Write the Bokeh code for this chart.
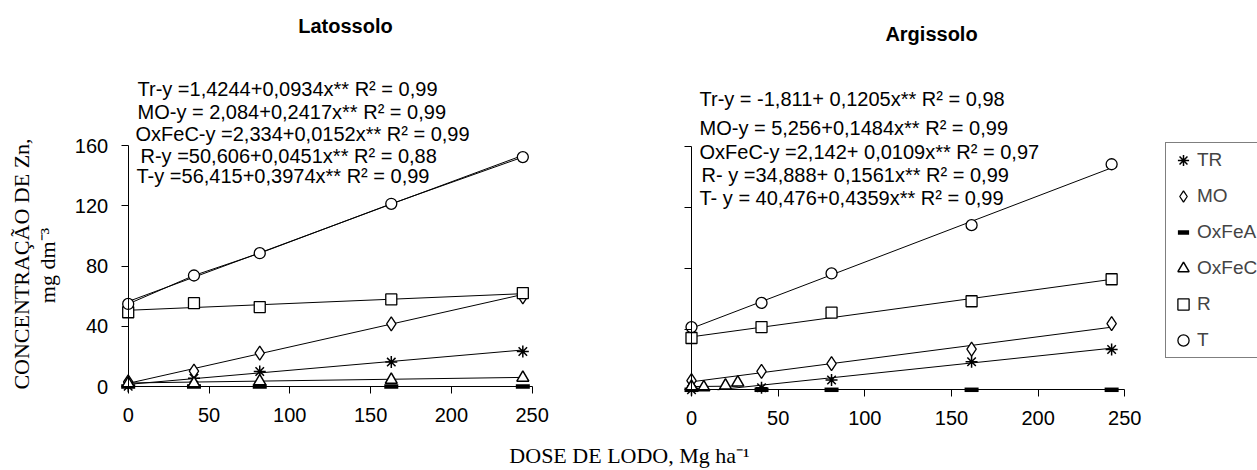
from math import pi
from bokeh.plotting import figure
from bokeh.models import Range1d, LinearAxis, FixedTicker, Label, Legend, LegendItem
from bokeh.embed import file_html
from bokeh.resources import INLINE

# ---------------- data ----------------
doses_lat = [0, 40.7, 81.4, 162.8, 244.2]
doses_arg = [0, 40.4, 80.8, 161.6, 242.4]

tr_lat = [0.2, 5.5, 10.0, 16.2, 23.2]
mo_lat = [3.0, 10.2, 22.1, 41.6, 59.5]
oxfea_lat = [0, 0, 0, 0, 0]
oxfec_lat = [2.0, 2.0, 3.5, 4.4, 5.8]
r_lat = [49.3, 55.3, 52.7, 57.8, 62.0]
t_lat = [54.8, 73.7, 88.5, 121.3, 152.3]

tr_arg = [0.0, 1.3, 6.5, 18.5, 26.5]
mo_arg = [6.1, 12.1, 17.2, 26.8, 43.6]
oxfea_arg = [0, 0, 0, 0, 0]
oxfec_arg_x = [0, 7.1, 19.6, 26.7]
oxfec_arg = [2.0, 1.7, 2.8, 4.8]
r_arg = [34.1, 41.3, 50.8, 58.3, 72.8]
t_arg = [41.3, 57.2, 76.6, 108.4, 148.5]

# regression coefficients  y = a + b x
reg_lat = {"TR": (1.4244, 0.0934), "MO": (2.084, 0.2417), "OxFeC": (2.334, 0.0152),
           "R": (50.606, 0.0451), "T": (56.415, 0.3974)}
reg_arg = {"TR": (-1.811, 0.1205), "MO": (5.256, 0.1484), "OxFeC": (2.142, 0.0109),
           "R": (34.888, 0.1561), "T": (40.476, 0.4359)}

eq_lat = ["Tr-y =1,4244+0,0934x** R² = 0,99",
          "MO-y = 2,084+0,2417x** R² = 0,99",
          "OxFeC-y =2,334+0,0152x** R² = 0,99",
          "R-y =50,606+0,0451x** R² = 0,88",
          "T-y =56,415+0,3974x** R² = 0,99"]
eq_arg = ["Tr-y = -1,811+ 0,1205x** R² = 0,98",
          "MO-y = 5,256+0,1484x**  R² = 0,99",
          "OxFeC-y =2,142+ 0,0109x**  R² = 0,97",
          "R- y =34,888+ 0,1561x**  R² = 0,99",
          "T- y = 40,476+0,4359x**  R² = 0,99"]

x_ticks = [0, 50, 100, 150, 200, 250]
y_ticks = [0, 40, 80, 120, 160]
legend_labels = ["TR", "MO", "OxFeA", "OxFeC", "R", "T"]
title_lat = "Latossolo"
title_arg = "Argissolo"
y_title = ["CONCENTRAÇÃO DE Zn,", "mg dm⁻³"]
x_title = "DOSE DE LODO, Mg ha⁻¹"

# ---------------- layout ----------------
W, H = 1257, 470
M = 0  # the page template has no body margin


def x_range_for(px0, px1, v0, v1):
    k = (px1 - px0) / (v1 - v0)
    start = v0 - (px0 - M) / k
    return Range1d(start, start + W / k)


def y_range_for(py0, py1, v0, v1):
    k = (py0 - py1) / (v1 - v0)
    top = v0 + (py0 - M) / k
    return Range1d(top - H / k, top)


def sx(ix):
    return ix - M


def sy(iy):
    return (H + M) - iy


p = figure(width=W, height=H, output_backend="svg", toolbar_location=None,
           x_axis_type=None, y_axis_type=None, min_border=0,
           x_range=x_range_for(127.7, 531.7, 0, 250),
           y_range=y_range_for(386.0, 145.0, 0, 160))
p.outline_line_color = None
p.background_fill_color = "white"
p.border_fill_color = "white"
p.extra_x_ranges = {"rx": x_range_for(691.0, 1124.3, 0, 250)}
p.extra_y_ranges = {"ry": y_range_for(389.3, 146.3, 0, 160)}

SANS = "Liberation Sans"
SERIF = "Liberation Serif"


def style_axis(ax, labels=True, standoff=12):
    ax.axis_line_color = "black"
    ax.axis_line_width = 1
    ax.major_tick_line_color = "black"
    ax.major_tick_out = 7
    ax.major_tick_in = 0
    ax.minor_tick_line_color = None
    ax.major_label_text_font = SANS
    ax.major_label_text_font_size = "20px"
    ax.major_label_text_color = "black" if labels else None
    ax.major_label_standoff = standoff


for rn in (None, "r"):
    kw = {} if rn is None else dict(x_range_name="rx", y_range_name="ry")
    xa = LinearAxis(fixed_location=0, bounds=(0, 250), ticker=FixedTicker(ticks=x_ticks), **kw)
    ya = LinearAxis(fixed_location=0, bounds=(0, 160), ticker=FixedTicker(ticks=y_ticks), **kw)
    style_axis(xa, standoff=14)
    style_axis(ya, labels=(rn is None), standoff=13)
    p.add_layout(xa, "below")
    p.add_layout(ya, "left")

styles = {
    "TR": dict(marker="asterisk", size=12, line_width=1.5, line_color="black"),
    "MO": dict(marker="diamond", size=14, line_width=1.3, line_color="black", fill_color="white"),
    "OxFeA": dict(marker="dash", size=14, line_width=4.5, line_color="black"),
    "OxFeC": dict(marker="triangle", size=12, line_width=1.5, line_color="black", fill_color="white"),
    "R": dict(marker="square", size=11, line_width=1.3, line_color="black", fill_color="white"),
    "T": dict(marker="circle", size=11, line_width=1.3, line_color="black", fill_color="white"),
}


def draw_panel(doses, series, regs, rkw, oxfec_x=None, connect_T=False):
    # regression lines
    for key, (a, b) in regs.items():
        xs_data = oxfec_x if (key == "OxFeC" and oxfec_x is not None) else doses
        x0 = max(min(xs_data), -a / b if a < 0 else 0)
        x1 = max(xs_data)
        p.line([x0, x1], [a + b * x0, a + b * x1], line_color="black", line_width=1, **rkw)
    if connect_T:
        p.line(doses, series["T"], line_color="black", line_width=1, **rkw)
    rends = {}
    for key in legend_labels:
        xs = oxfec_x if (key == "OxFeC" and oxfec_x is not None) else doses
        rends[key] = p.scatter(xs, series[key], **styles[key], **rkw)
    return rends


draw_panel(doses_lat, {"TR": tr_lat, "MO": mo_lat, "OxFeA": oxfea_lat, "OxFeC": oxfec_lat,
                       "R": r_lat, "T": t_lat}, reg_lat, {}, connect_T=True)
rr = draw_panel(doses_arg, {"TR": tr_arg, "MO": mo_arg, "OxFeA": oxfea_arg, "OxFeC": oxfec_arg,
                            "R": r_arg, "T": t_arg}, reg_arg,
                dict(x_range_name="rx", y_range_name="ry"), oxfec_x=oxfec_arg_x)

# legend: top at y=144, height = 2*3 + 6*28 + 5*8 = 214 -> bottom at 358
legend = Legend(items=[LegendItem(label=k, renderers=[rr[k]]) for k in legend_labels],
                location=(sx(1165), sy(358)), glyph_width=28, glyph_height=28, spacing=8,
                padding=3, margin=0, label_standoff=0, label_width=80,
                label_text_font=SANS, label_text_font_size="19px",
                border_line_color="black", border_line_width=1,
                background_fill_color="white", background_fill_alpha=1)
p.add_layout(legend)


def add_text(text, ix, iy, size, font=SANS, align="left", baseline="middle", style="normal", angle=0):
    p.add_layout(Label(x=sx(ix), y=sy(iy), x_units="screen", y_units="screen", text=text,
                       text_font=font, text_font_size=size, text_align=align,
                       text_baseline=baseline, text_font_style=style, angle=angle,
                       text_color="black"))


add_text(title_lat, 345, 25, "20px", align="center", style="bold")
add_text(title_arg, 931, 33, "20px", align="center", style="bold")

for txt, (ix, iy) in zip(eq_lat, [(137, 88), (137, 111), (135, 133), (140, 155), (136, 175)]):
    add_text(txt, ix, iy, "20px")
for txt, (ix, iy) in zip(eq_arg, [(699, 98), (699, 127), (699, 151), (701, 174), (699, 197)]):
    add_text(txt, ix, iy, "20px")

add_text(y_title[0], 21, 263.5, "22px", font=SERIF, align="center", angle=pi / 2)
add_text(y_title[1], 46.5, 265, "22px", font=SERIF, align="center", angle=pi / 2)
add_text(x_title, 629, 455, "22px", font=SERIF, align="center", baseline="middle")

open("out.html", "w").write(file_html(p, INLINE))
